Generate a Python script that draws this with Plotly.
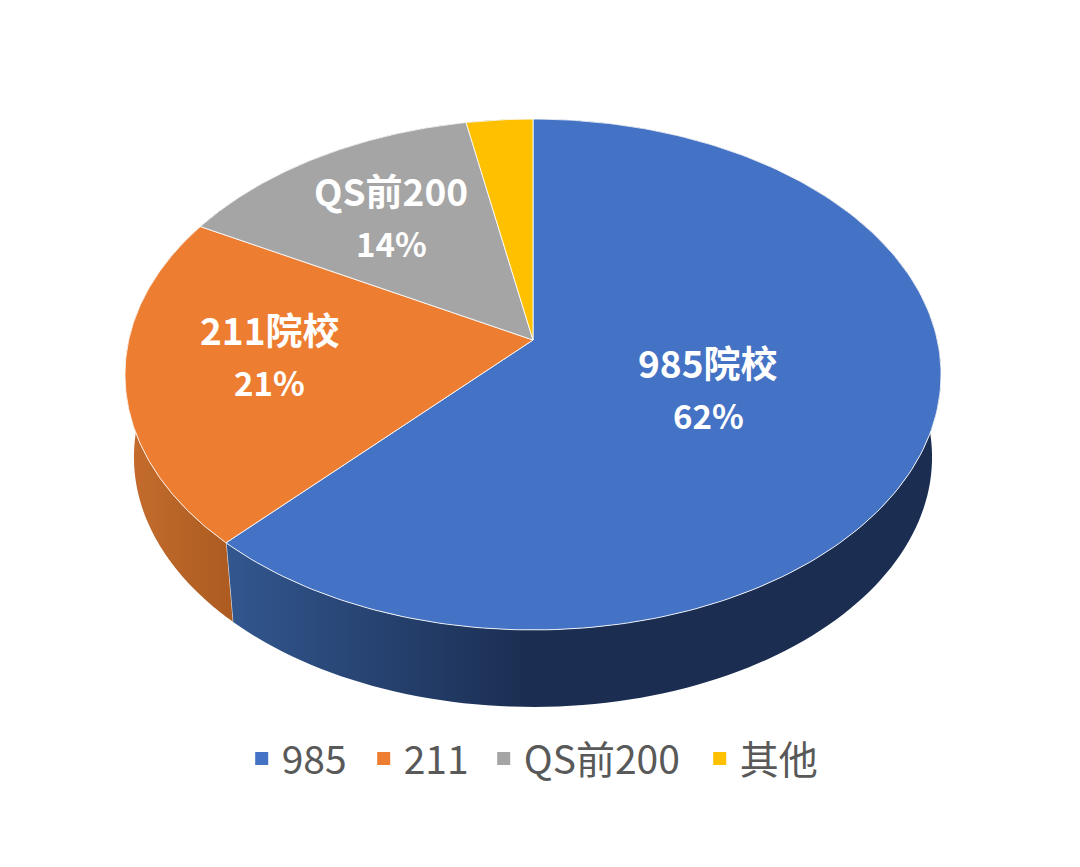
import numpy as np
import plotly.graph_objects as go

# values
names = ['985', '211', 'QS前200', '其他']
label_names = ['985院校', '211院校', 'QS前200', '']
values = [62, 21, 14, 3]
top_colors = ['#4472C4', '#ED7D31', '#A5A5A5', '#FFC000']
side_colors = [
    [[0, '#32578F'], [0.42, '#1B2E52'], [1, '#1B2E52']],
    [[0, '#C56D2E'], [1, '#AC5B21']],
    [[0, '#63636B'], [1, '#63636B']],
    [[0, '#997300'], [1, '#997300']],
]
label_radius = [0.45, 0.66, 0.60, 0]
label_shift = [(2, -6), (4, 10), (-8, 9), (0, 0)]
legend_widths = [77, 75, 171, 80]

# pie geometry in page pixels, the page body has an 8px margin
cx, cy = 533, 340
tilt = 0.135
ry = 250.8
rx = 404.3
vanish_y = 4130
depth_scale = 0.978
font_cjk = 'Noto Sans CJK SC, Noto Sans, sans-serif'


def project(angle, r=1.0):
    # clockwise angle from 12 o'clock, perspective view of the disc
    u = r * np.sin(angle)
    v = r * np.cos(angle)
    d = 1 + tilt * v
    return cx + rx * u / d, cy - ry * v / d


def lower(x, y):
    return cx + depth_scale * (x - cx), vanish_y + depth_scale * (y - vanish_y)


total = sum(values)
edges = np.cumsum([0] + values) / total * 2 * np.pi

fig = go.Figure()

# sides first, the top face is drawn over them
for i in range(len(values)):
    t = np.linspace(edges[i], edges[i + 1], 150)
    tx, ty = project(t)
    bx, by = lower(tx, ty)
    xs, ys = [], []
    # one quad per step so the outer silhouette follows the rulings
    for j in range(len(t) - 1):
        xs += [tx[j], bx[j], bx[j + 1], tx[j + 1], tx[j], None]
        ys += [ty[j], by[j], by[j + 1], ty[j + 1], ty[j], None]
    fig.add_trace(go.Scatter(
        x=xs, y=ys,
        mode='lines',
        fill='toself',
        fillgradient=dict(type='horizontal', colorscale=side_colors[i]),
        line=dict(width=0, simplify=False),
        hoverinfo='skip',
        showlegend=False,
    ))
    fig.add_trace(go.Scatter(
        x=[tx[-1], bx[-1]], y=[ty[-1], by[-1]],
        mode='lines',
        line=dict(color='rgba(255,255,255,0.8)', width=1.2),
        hoverinfo='skip',
        showlegend=False,
    ))

for i in range(len(values)):
    t = np.linspace(edges[i], edges[i + 1], 200)
    tx, ty = project(t)
    fig.add_trace(go.Scatter(
        x=np.concatenate([[cx], tx, [cx]]),
        y=np.concatenate([[cy], ty, [cy]]),
        mode='lines',
        fill='toself',
        fillcolor=top_colors[i],
        line=dict(color='rgba(255,255,255,0.85)', width=1),
        hoverinfo='skip',
        showlegend=False,
    ))

# legend entries
for name, color, w in zip(names, top_colors, legend_widths):
    fig.add_trace(go.Scatter(
        x=[None], y=[None], mode='markers', name=name, legendwidth=w,
        marker=dict(symbol='square', size=13, color=color),
    ))

# labels on the slices
for i in range(len(values)):
    if not label_names[i]:
        continue
    mid = (edges[i] + edges[i + 1]) / 2
    lx, ly = project(mid, label_radius[i])
    sx, sy = label_shift[i]
    fig.add_annotation(x=lx, y=ly, text='<b>' + label_names[i] + '</b>', xshift=sx, yshift=sy + 27,
                       showarrow=False, font=dict(family=font_cjk, size=37, color='white'))
    fig.add_annotation(x=lx, y=ly, text='<b>' + str(values[i]) + '%</b>', xshift=sx, yshift=sy - 26,
                       showarrow=False, font=dict(family=font_cjk, size=33, color='white'))

fig.update_layout(
    width=1072, height=859,
    margin=dict(l=0, r=0, t=0, b=0),
    paper_bgcolor='white', plot_bgcolor='white',
    xaxis=dict(range=[8, 1080], visible=False, fixedrange=True),
    yaxis=dict(range=[867, 8], visible=False, fixedrange=True),
    showlegend=True,
    legend=dict(orientation='h', x=0.218, xanchor='left', y=0.126, yanchor='middle',
                font=dict(family=font_cjk, size=39, color='#595959'),
                itemclick=False, itemdoubleclick=False),
)

fig.write_html('out.html')
